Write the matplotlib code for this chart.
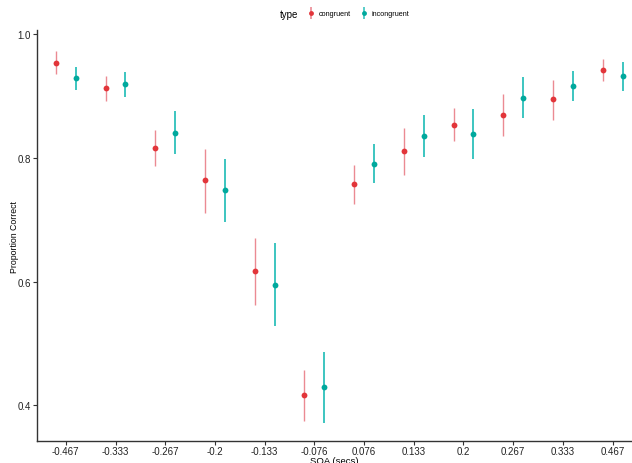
import numpy as np
import matplotlib
matplotlib.use("Agg")
import matplotlib.pyplot as plt
from matplotlib.lines import Line2D
from matplotlib.legend_handler import HandlerTuple
from matplotlib.offsetbox import HPacker

plt.rcParams['font.family'] = ['Liberation Sans', 'DejaVu Sans']

# -----------------------------
# data
# -----------------------------
soa_labels = ["-0.467", "-0.333", "-0.267", "-0.2", "-0.133", "-0.076",
              "0.076", "0.133", "0.2", "0.267", "0.333", "0.467"]

cong_mean = [0.954, 0.913, 0.817, 0.764, 0.617, 0.417,
             0.758, 0.811, 0.854, 0.870, 0.895, 0.942]
cong_low = [0.936, 0.893, 0.787, 0.711, 0.563, 0.375,
            0.726, 0.772, 0.828, 0.835, 0.861, 0.924]
cong_high = [0.973, 0.932, 0.846, 0.815, 0.670, 0.457,
             0.789, 0.849, 0.881, 0.904, 0.927, 0.960]

incong_mean = [0.929, 0.920, 0.841, 0.748, 0.595, 0.429,
               0.791, 0.835, 0.839, 0.897, 0.917, 0.932]
incong_low = [0.910, 0.898, 0.807, 0.697, 0.528, 0.372,
              0.760, 0.802, 0.799, 0.865, 0.892, 0.909]
incong_high = [0.948, 0.940, 0.876, 0.799, 0.662, 0.486,
               0.822, 0.869, 0.879, 0.931, 0.941, 0.956]

# -----------------------------
# figure
# -----------------------------
fig = plt.figure(figsize=(6.32, 4.64), dpi=100)
ax = fig.add_axes([0.0585, 0.047, 0.9415, 0.886])

x = np.arange(len(soa_labels))
dodge = 0.2

red_pt, red_ln = "#E2353A", "#EB8A93"
teal_pt, teal_ln = "#00A99D", "#3CC5C0"

series = [
    (cong_mean, cong_low, cong_high, -dodge, red_pt, red_ln, 1.0),
    (incong_mean, incong_low, incong_high, dodge, teal_pt, teal_ln, 1.4),
]
for mean, lo, hi, off, pcol, lcol, lw in series:
    mean = np.array(mean)
    yerr = [mean - np.array(lo), np.array(hi) - mean]
    ax.errorbar(x + off, mean, yerr=yerr, fmt='none', ecolor=lcol,
                elinewidth=lw, capsize=0, zorder=2)
    ax.plot(x + off, mean, 'o', color=pcol, markersize=4.2,
            markeredgewidth=0, zorder=3)

ax.set_xlim(-0.58, 11.39)
ax.set_ylim(0.342, 1.007)
ax.set_xticks(x)
ax.set_xticklabels(soa_labels)
ax.set_yticks([0.4, 0.6, 0.8, 1.0])
ax.set_yticklabels(["0.4", "0.6", "0.8", "1.0"])

for s in ["top", "right"]:
    ax.spines[s].set_visible(False)
for s in ["left", "bottom"]:
    ax.spines[s].set_color("#333333")
    ax.spines[s].set_linewidth(1.0)
ax.tick_params(axis='both', length=3, width=0.8, color="#333333",
               labelsize=7, labelcolor="#222222", pad=1.5)
ax.tick_params(axis='x', pad=0.5)

ax.set_xlabel("SOA (secs)", fontsize=6.8, labelpad=0)
ax.set_ylabel("Proportion Correct", fontsize=6.3, labelpad=-1.5)

# legend on top: pointrange glyphs (vertical line + dot)
def glyph(pcol, lcol):
    bar = Line2D([0], [0], marker='|', color=lcol, markersize=8,
                 markeredgewidth=1.2, linestyle='none')
    dot = Line2D([0], [0], marker='o', color=pcol, markersize=3.5,
                 markeredgewidth=0, linestyle='none')
    return (bar, dot)

leg = fig.legend([glyph(red_pt, red_ln), glyph(teal_pt, teal_ln)],
                 ["congruent", "incongruent"], title="type",
                 handler_map={tuple: HandlerTuple(ndivide=1)},
                 loc='center', bbox_to_anchor=(0.545, 0.968), ncol=2,
                 frameon=False, fontsize=5.2, title_fontsize=7,
                 handlelength=0.6, handletextpad=0.8, columnspacing=1.4)
# put title to the left of the entries
box = leg._legend_box
box.__class__ = HPacker
box.sep = 8
box.align = "center"

fig.savefig("out.png", dpi=100)
